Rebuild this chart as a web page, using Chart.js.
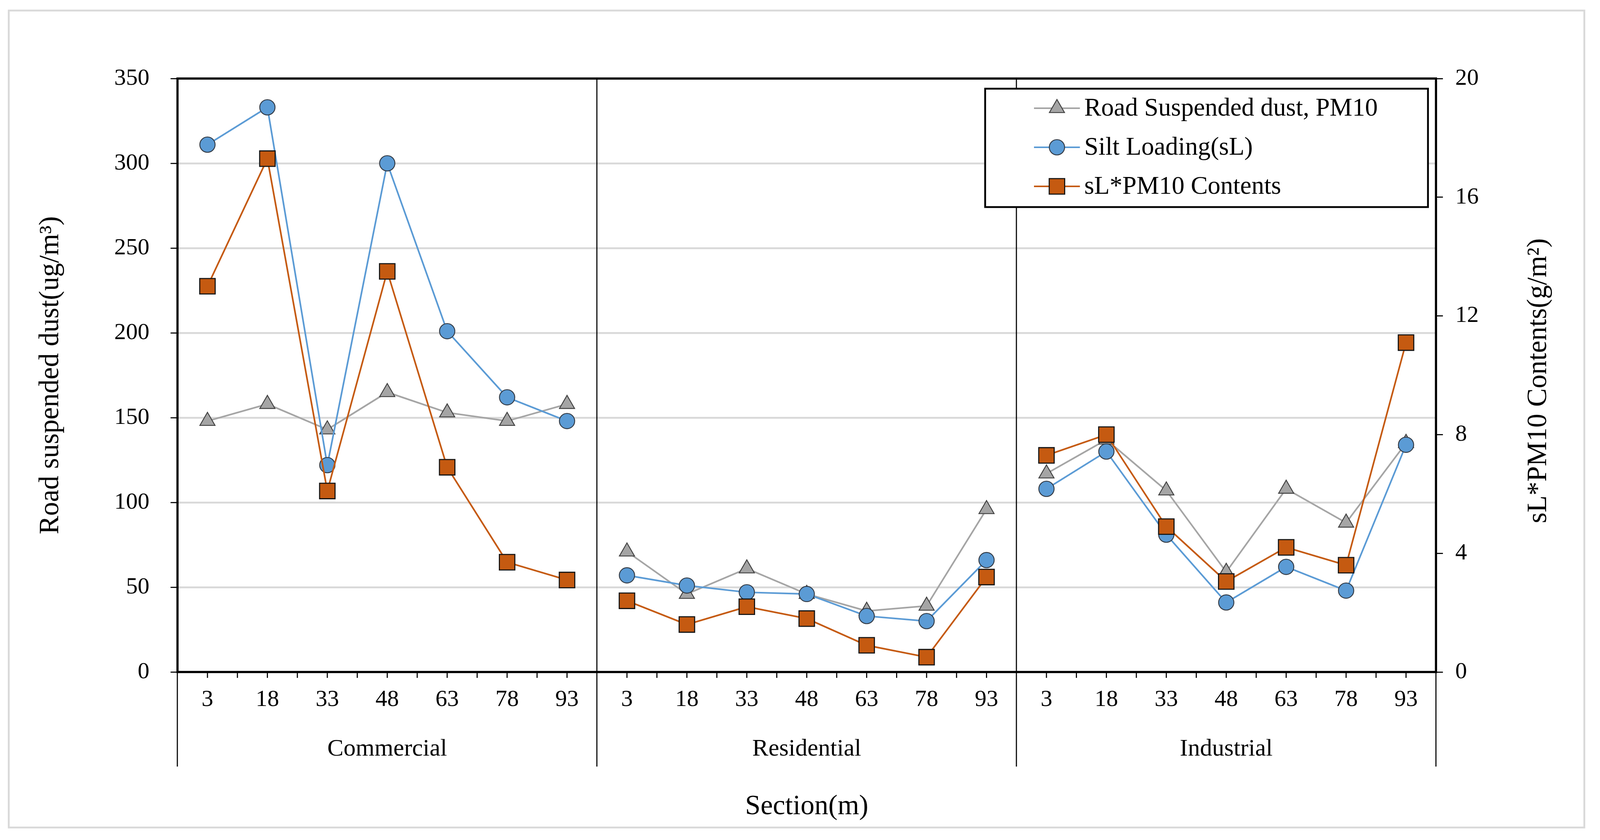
<!DOCTYPE html>
<html>
<head>
<meta charset="utf-8">
<script src="https://cdn.jsdelivr.net/npm/chart.js@4.4.1/dist/chart.umd.min.js"></script>
<style>
  html, body { margin: 0; padding: 0; background: #ffffff; overflow: hidden; }
  #wrap { width: 100vw; height: 100vh; }
</style>
</head>
<body>
<div id="wrap"><canvas id="dust_chart"></canvas></div>
<script>
// values
const groups = ["Commercial", "Residential", "Industrial"];
const sections = ["3", "18", "33", "48", "63", "78", "93"];
const road_dust = [148, 158, 143, 165, 153, 148, 158,
                   71, 46, 61, 46, 36, 39, 96,
                   117, 137, 107, 59, 108, 88, 135];
const silt_loading = [311, 333, 122, 300, 201, 162, 148,
                      57, 51, 47, 46, 33, 30, 66,
                      108, 130, 81, 41, 62, 48, 134];
const sl_pm10 = [13.0, 17.3, 6.1, 13.5, 6.9, 3.7, 3.1,
                 2.4, 1.6, 2.2, 1.8, 0.9, 0.5, 3.2,
                 7.3, 8.0, 4.9, 3.05, 4.2, 3.6, 11.1];
const left_range = [0, 350, 50];
const right_range = [0, 20, 4];

const serif = "'Liberation Serif', 'Times New Roman', serif";
const per_group = sections.length;
const x_labels = groups.flatMap(() => sections);

// layout was measured on a 4390 x 2150 page, scale it to the real one
const wrap = document.getElementById("wrap");
const kx = wrap.clientWidth / 4390;
const ky = wrap.clientHeight / 2150;
const kf = Math.min(kx, ky);
const px = v => v * kx;
const py = v => v * ky;
const pf = v => Math.round(v * kf);

// no line between the last point of one area and the first of the next
const group_gap = {
  borderColor: ctx => (ctx.p1DataIndex % per_group === 0 ? "rgba(0,0,0,0)" : undefined)
};

const excel_bits = {
  id: "excel_bits",
  beforeDraw(chart) {
    const ctx = chart.ctx;
    ctx.save();
    ctx.strokeStyle = "#d9d9d9";
    ctx.lineWidth = 5 * kf;
    ctx.strokeRect(px(24), py(27), px(4323), py(2091));
    ctx.restore();
  },
  beforeDatasetsDraw(chart) {
    const ctx = chart.ctx;
    const area = chart.chartArea;
    const x = chart.scales.x;
    const step = x.getPixelForValue(1) - x.getPixelForValue(0);
    ctx.save();
    // plot box
    ctx.strokeStyle = "#000";
    ctx.lineWidth = 6 * kf;
    ctx.strokeRect(area.left, area.top, area.right - area.left, area.bottom - area.top);
    // small tick marks, on the points and between them
    ctx.lineWidth = 3 * kf;
    ctx.beginPath();
    for (let i = 0; i < x_labels.length; i++) {
      const c = x.getPixelForValue(i);
      ctx.moveTo(c, area.bottom);
      ctx.lineTo(c, area.bottom + py(15));
      if ((i + 1) % per_group !== 0) {
        ctx.moveTo(c + step / 2, area.bottom);
        ctx.lineTo(c + step / 2, area.bottom + py(15));
      }
    }
    ctx.stroke();
    // area separators
    ctx.beginPath();
    for (let g = 0; g <= groups.length; g++) {
      const sx = Math.round(x.getPixelForValue(g * per_group) - step / 2);
      ctx.moveTo(sx, area.top);
      ctx.lineTo(sx, area.bottom + py(242));
    }
    ctx.stroke();
    // area names
    ctx.fillStyle = "#000";
    ctx.font = pf(66) + "px " + serif;
    ctx.textAlign = "center";
    ctx.textBaseline = "middle";
    groups.forEach((name, g) => {
      const mid = x.getPixelForValue(g * per_group + Math.floor(per_group / 2));
      ctx.fillText(name, mid, area.bottom + py(198));
    });
    ctx.restore();
  },
  afterDraw(chart) {
    const ctx = chart.ctx;
    const area = chart.chartArea;
    ctx.save();
    // right axis title, reading upwards
    ctx.fillStyle = "#000";
    ctx.font = pf(76) + "px " + serif;
    ctx.textAlign = "center";
    ctx.textBaseline = "middle";
    ctx.translate(area.right + px(282), (area.top + area.bottom) / 2 + py(14));
    ctx.rotate(-Math.PI / 2);
    ctx.fillText("sL*PM10 Contents(g/m\u00b2)", 0, 0);
    ctx.restore();

    // legend box
    const box_left = area.right - px(1237);
    const box_top = area.top + py(26);
    ctx.save();
    ctx.fillStyle = "#fff";
    ctx.fillRect(box_left, box_top, px(1215), py(303));
    ctx.strokeStyle = "#000";
    ctx.lineWidth = 5 * kf;
    ctx.strokeRect(box_left, box_top, px(1215), py(303));
    chart.data.datasets.forEach((ds, k) => {
      const y = box_top + py(50 + k * 100);
      ctx.strokeStyle = ds.borderColor;
      ctx.lineWidth = ds.borderWidth;
      ctx.beginPath();
      ctx.moveTo(box_left + px(134), y);
      ctx.lineTo(box_left + px(260), y);
      ctx.stroke();
      ctx.fillStyle = ds.pointBackgroundColor;
      ctx.strokeStyle = ds.pointBorderColor;
      ctx.lineWidth = ds.pointBorderWidth;
      Chart.helpers.drawPoint(ctx, {
        pointStyle: ds.pointStyle, radius: ds.pointRadius,
        rotation: 0, borderWidth: ds.pointBorderWidth
      }, box_left + px(197), y);
      ctx.fillStyle = "#000";
      ctx.font = pf(70) + "px " + serif;
      ctx.textAlign = "left";
      ctx.textBaseline = "middle";
      ctx.fillText(ds.label, box_left + px(272), y + py(2));
    });
    ctx.restore();
  }
};

Chart.defaults.font.family = serif;
Chart.defaults.color = "#000";

new Chart(document.getElementById("dust_chart"), {
  type: "line",
  data: {
    labels: x_labels,
    datasets: [
      {
        label: "Road Suspended dust, PM10",
        data: road_dust,
        yAxisID: "y",
        order: 3,
        borderColor: "#a5a5a5",
        borderWidth: 4.5 * kf,
        pointStyle: "triangle",
        pointRadius: 24 * kf,
        pointBackgroundColor: "#a5a5a5",
        pointBorderColor: "#404040",
        pointBorderWidth: 2.5 * kf,
        segment: group_gap
      },
      {
        label: "Silt Loading(sL)",
        data: silt_loading,
        yAxisID: "y",
        order: 2,
        borderColor: "#5b9bd5",
        borderWidth: 4.5 * kf,
        pointStyle: "circle",
        pointRadius: 21 * kf,
        pointBackgroundColor: "#5b9bd5",
        pointBorderColor: "#333a44",
        pointBorderWidth: 2.5 * kf,
        segment: group_gap
      },
      {
        label: "sL*PM10 Contents",
        data: sl_pm10,
        yAxisID: "y2",
        order: 1,
        borderColor: "#c55a11",
        borderWidth: 4.5 * kf,
        pointStyle: "rect",
        pointRadius: 30 * kf,
        pointBackgroundColor: "#c55a11",
        pointBorderColor: "#141414",
        pointBorderWidth: 3 * kf,
        segment: group_gap
      }
    ]
  },
  options: {
    responsive: true,
    maintainAspectRatio: false,
    devicePixelRatio: 1,
    animation: false,
    events: [],
    layout: { padding: { top: py(201), left: 0, right: 0, bottom: 0 } },
    plugins: {
      legend: { display: false },
      tooltip: { enabled: false }
    },
    scales: {
      x: {
        type: "category",
        offset: true,
        grid: { display: false, drawTicks: false },
        border: { display: false },
        ticks: { autoSkip: false, maxRotation: 0, padding: py(35), font: { size: pf(64) } },
        title: { display: true, text: "Section(m)", font: { size: pf(76) }, padding: { top: 0, bottom: py(42) } },
        afterFit: scale => { scale.height = py(430); }
      },
      y: {
        position: "left",
        min: left_range[0],
        max: left_range[1],
        grid: { color: "#d9d9d9", lineWidth: 5 * kf, tickColor: "#000", tickWidth: 3 * kf, tickLength: px(19) },
        border: { display: false },
        ticks: { stepSize: left_range[2], padding: px(58), font: { size: pf(64) } },
        title: { display: true, text: "Road suspended dust(ug/m\u00b3)", font: { size: pf(76) }, padding: { top: px(94), bottom: 0 } },
        afterFit: scale => { scale.width = px(487); }
      },
      y2: {
        position: "right",
        min: right_range[0],
        max: right_range[1],
        grid: { drawOnChartArea: false, color: "#000", tickColor: "#000", tickWidth: 3 * kf, tickLength: px(19) },
        border: { display: false },
        ticks: { stepSize: right_range[2], padding: px(34), font: { size: pf(64) } },
        afterFit: scale => { scale.width = px(450); }
      }
    }
  },
  plugins: [excel_bits]
});
</script>
</body>
</html>
